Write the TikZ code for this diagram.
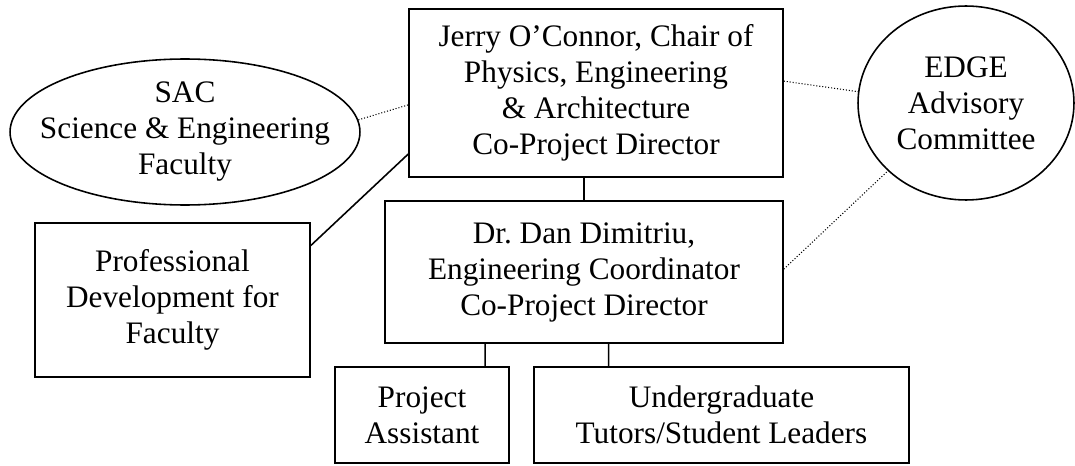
\documentclass[tikz,border=0pt]{standalone}
\usepackage{fontspec}
\setmainfont{Liberation Serif}
\usetikzlibrary{shapes.geometric,calc}

\begin{document}
\begin{tikzpicture}[x=0.02cm,y=-0.02cm,
	every node/.style={align=center,font=\fontsize{17.8}{20.5}\selectfont,line width=0.9pt},
	box/.style={draw,rectangle,inner sep=0pt},
	oval/.style={draw,ellipse,inner sep=-1cm},
	link/.style={line width=0.9pt},
	weak/.style={line width=0.6pt,dash pattern=on 0.6pt off 1.1pt}]
	
	\useasboundingbox (0,0) rectangle (1075,466);
	
	% the chart boxes
	\node[box,minimum width=7.48cm,minimum height=3.36cm] (jerry) at (596,93)
		{Jerry O'Connor, Chair of\\Physics, Engineering\\\& Architecture\\Co-Project Director};
	\node[box,minimum width=7.96cm,minimum height=2.84cm] (dan) at (584,272)
		{Dr.\ Dan Dimitriu,\\Engineering Coordinator\\Co-Project Director};
	\node[box,minimum width=5.5cm,minimum height=3.08cm] (pd) at (172.5,300)
		{Professional\\Development for\\Faculty};
	\node[box,minimum width=3.48cm,minimum height=1.92cm] (pa) at (422,415)
		{Project\\Assistant};
	\node[box,minimum width=7.5cm,minimum height=1.92cm] (ug) at (721.5,415)
		{Undergraduate\\Tutors/Student Leaders};
	
	% the committees
	\node[oval,minimum width=7cm,minimum height=2.92cm] (sac) at (185,132)
		{SAC\\Science \& Engineering\\Faculty};
	\node[oval,minimum width=4.32cm,minimum height=3.88cm] (edge) at (966,103)
		{EDGE\\Advisory\\Committee};
	
	\coordinate (paTop) at ($(pa.north west)!0.86!(pa.north east)$);
	\coordinate (ugTop) at ($(ug.north west)!0.2!(ug.north east)$);
	
	\draw[link] (dan.north) -- (dan.north |- jerry.south)
		(paTop) -- (paTop |- dan.south)
		(ugTop) -- (ugTop |- dan.south)
		($(jerry.north west)!0.86!(jerry.south west)$) -- ($(pd.north east)!0.15!(pd.south east)$);
	\draw[weak] (sac.4) -- ($(jerry.north west)!0.57!(jerry.south west)$)
		($(jerry.north east)!0.43!(jerry.south east)$) -- (edge.174)
		($(dan.north east)!0.48!(dan.south east)$) -- (edge.221);
	
\end{tikzpicture}
\end{document}
